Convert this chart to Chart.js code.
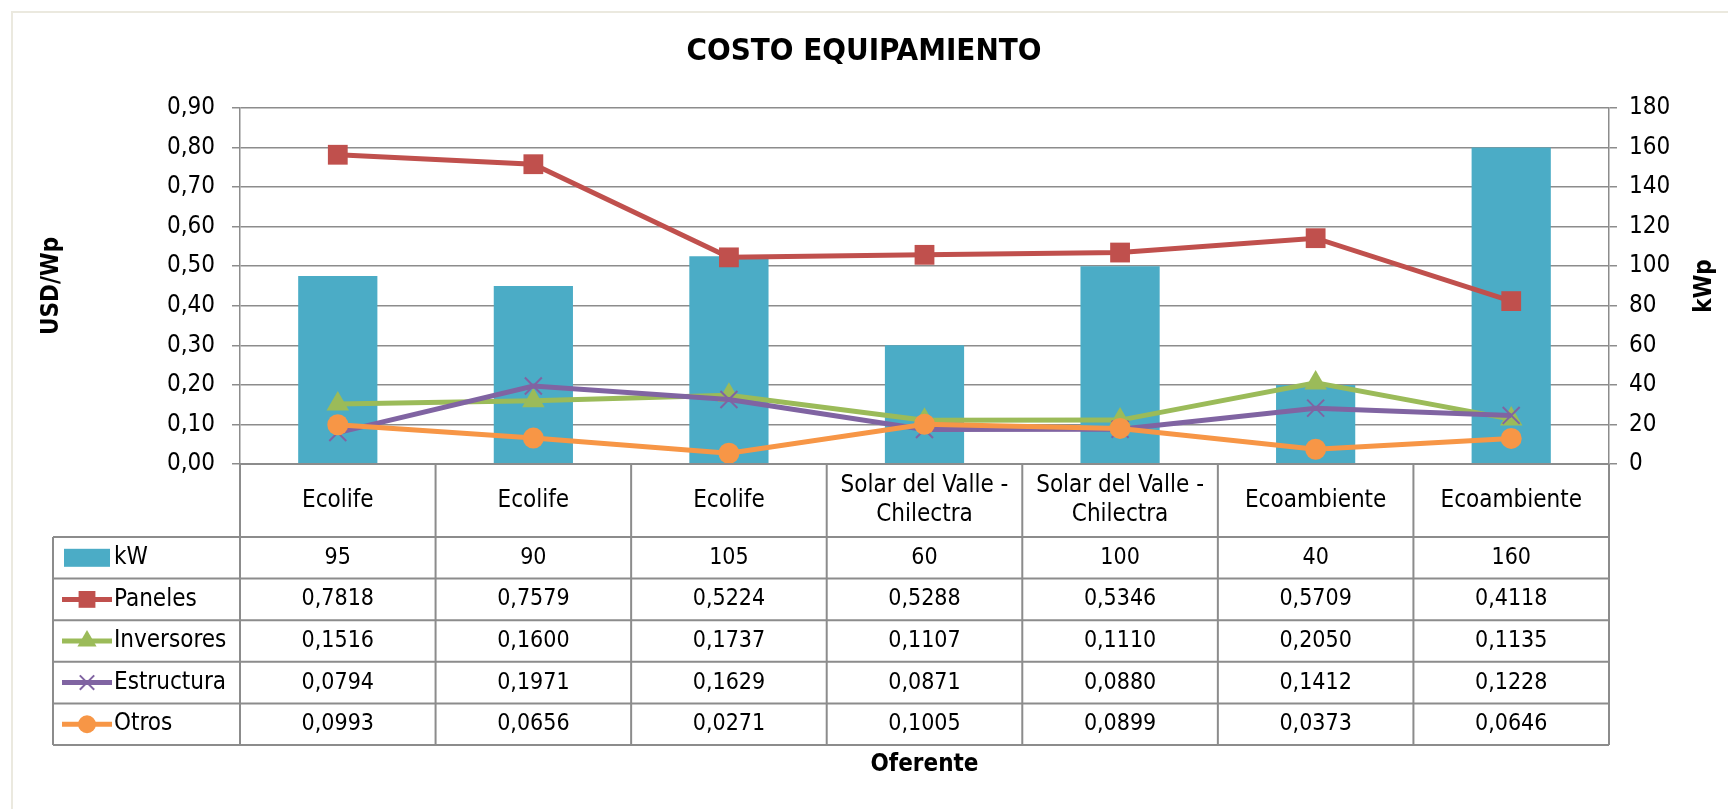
<!DOCTYPE html>
<html>
<head>
<meta charset="utf-8">
<title>Costo equipamiento</title>
<script src="https://cdn.jsdelivr.net/npm/chart.js@4.4.1/dist/chart.umd.min.js"></script>
<style>
  html, body { margin: 0; padding: 0; background: #fff; overflow: hidden; }
  #frame { position: absolute; left: 11px; top: 11px; width: 1740px; height: 820px; border: 2px solid #ebe9df; box-sizing: border-box; }
  #chartBox { position: absolute; left: 0; top: 0; width: 1728px; height: 809px; }
</style>
</head>
<body>
<div id="frame"></div>
<div id="chartBox"><canvas id="costChart" width="1728" height="809"></canvas></div>
<script>
const categories = ['Ecolife', 'Ecolife', 'Ecolife', ['Solar del Valle -', 'Chilectra'], ['Solar del Valle -', 'Chilectra'], 'Ecoambiente', 'Ecoambiente'];
const kwValues = [95, 90, 105, 60, 100, 40, 160];
const paneles = [0.7818, 0.7579, 0.5224, 0.5288, 0.5346, 0.5709, 0.4118];
const inversores = [0.1516, 0.1600, 0.1737, 0.1107, 0.1110, 0.2050, 0.1135];
const estructura = [0.0794, 0.1971, 0.1629, 0.0871, 0.0880, 0.1412, 0.1228];
const otros = [0.0993, 0.0656, 0.0271, 0.1005, 0.0899, 0.0373, 0.0646];
const usdAxis = { min: 0, max: 0.9, step: 0.1 };
const kwAxis = { min: 0, max: 180, step: 20 };

const FONT = '"Liberation Sans Narrow", "DejaVu Sans Condensed", "Arial Narrow", sans-serif';
const GRID = '#8c8c8c';

Chart.defaults.font.family = FONT;
Chart.defaults.color = '#000';

const comma = (v, d) => v.toFixed(d).replace('.', ',');

//..table under the plot, columns taken from the x scale
const tablePlugin = {
    id: 'dataTable',
    afterDraw(chart) {
        const { ctx, chartArea } = chart;
        const x = chart.scales.x;
        const half = (x.getPixelForValue(1) - x.getPixelForValue(0)) / 2;
        const headerH = 73, rowH = 41.6, tableLeft = 53;
        const top = chartArea.bottom;
        const rowsTop = top + headerH;
        const sets = chart.data.datasets;
        const bottom = rowsTop + rowH * sets.length;

        ctx.save();
        ctx.strokeStyle = GRID;
        ctx.lineWidth = 2;
        ctx.beginPath();
        ctx.moveTo(chartArea.left, top);
        ctx.lineTo(chartArea.right, top);
        for (let r = 0; r <= sets.length; r++) {
            const y = rowsTop + r * rowH;
            ctx.moveTo(tableLeft, y);
            ctx.lineTo(chartArea.right, y);
        }
        ctx.moveTo(tableLeft, rowsTop);
        ctx.lineTo(tableLeft, bottom);
        for (let i = 0; i <= categories.length; i++) {
            const px = x.getPixelForValue(0) - half + i * half * 2;
            ctx.moveTo(px, top);
            ctx.lineTo(px, bottom);
        }
        ctx.stroke();

        ctx.fillStyle = '#000';
        ctx.font = '24px ' + FONT;
        ctx.textAlign = 'center';
        ctx.textBaseline = 'middle';
        categories.forEach((c, i) => {
            const lines = Array.isArray(c) ? c : [c];
            const cx = x.getPixelForValue(i);
            const cy = top + headerH / 2;
            lines.forEach((t, k) => {
                ctx.fillText(t, cx, cy + (k - (lines.length - 1) / 2) * 29);
            });
        });

        sets.forEach((ds, r) => {
            const cy = rowsTop + r * rowH + rowH / 2;
            //..legend key
            if (ds.type === 'bar') {
                ctx.fillStyle = ds.backgroundColor;
                ctx.fillRect(64, cy - 9, 46, 18);
            } else {
                ctx.strokeStyle = ds.borderColor;
                ctx.lineWidth = 5;
                ctx.beginPath();
                ctx.moveTo(62, cy);
                ctx.lineTo(112, cy);
                ctx.stroke();
                ctx.fillStyle = ds.backgroundColor;
                ctx.lineWidth = ds.pointBorderWidth;
                Chart.helpers.drawPoint(ctx, {
                    pointStyle: ds.pointStyle,
                    radius: ds.pointRadius * 0.85,
                    borderWidth: ds.pointBorderWidth,
                    rotation: 0
                }, 87, cy);
            }
            ctx.fillStyle = '#000';
            ctx.font = '24px ' + FONT;
            ctx.textAlign = 'left';
            ctx.fillText(ds.label, 114, cy);
            ctx.textAlign = 'center';
            ctx.font = '23px ' + FONT;
            ds.data.forEach((v, i) => {
                ctx.fillText(comma(v, ds.decimals), x.getPixelForValue(i), cy);
            });
        });

        //..axis titles
        ctx.font = 'bold 24px ' + FONT;
        const midY = (chartArea.top + chartArea.bottom) / 2;
        [['USD/Wp', 52], ['kWp', 1705]].forEach(([t, px]) => {
            ctx.save();
            ctx.translate(px, midY);
            ctx.rotate(-Math.PI / 2);
            ctx.fillText(t, 0, 0);
            ctx.restore();
        });
        ctx.fillText('Oferente', (chartArea.left + chartArea.right) / 2, bottom + 20);
        ctx.restore();
    }
};

const lineSet = (label, data, color, style, radius, order) => ({
    type: 'line',
    label: label,
    data: data,
    yAxisID: 'y',
    borderColor: color,
    backgroundColor: color,
    borderWidth: 5,
    pointStyle: style,
    pointRadius: radius,
    pointHoverRadius: radius,
    pointBorderWidth: style === 'crossRot' ? 2 : 0,
    tension: 0,
    decimals: 4,
    order: order
});

new Chart(document.getElementById('costChart'), {
    data: {
        labels: categories,
        datasets: [
            {
                type: 'bar',
                label: 'kW',
                data: kwValues,
                yAxisID: 'kw',
                backgroundColor: '#4BACC6',
                categoryPercentage: 1,
                barPercentage: 0.405,
                decimals: 0,
                order: 5
            },
            lineSet('Paneles', paneles, '#C0504D', 'rect', 14, 4),
            lineSet('Inversores', inversores, '#9BBB59', 'triangle', 13, 3),
            lineSet('Estructura', estructura, '#8064A2', 'crossRot', 12, 2),
            lineSet('Otros', otros, '#F79646', 'circle', 10.5, 1)
        ]
    },
    options: {
        responsive: false,
        animation: false,
        devicePixelRatio: 1,
        layout: {
            padding: { top: 0, left: 0, right: 0, bottom: 345 }
        },
        plugins: {
            legend: { display: false },
            title: {
                display: true,
                text: 'COSTO EQUIPAMIENTO',
                color: '#000',
                font: { size: 31, weight: 'bold' },
                padding: { top: 33, bottom: 37.8 }
            }
        },
        scales: {
            x: {
                display: false,
                offset: true
            },
            y: {
                position: 'left',
                min: usdAxis.min,
                max: usdAxis.max,
                ticks: {
                    stepSize: usdAxis.step,
                    padding: 17,
                    font: { size: 24 },
                    callback: v => comma(v, 2)
                },
                grid: { color: GRID, lineWidth: 1.5, tickLength: 8 },
                border: { color: GRID, width: 1.5 },
                afterFit(scale) { scale.width = 240; }
            },
            kw: {
                position: 'right',
                min: kwAxis.min,
                max: kwAxis.max,
                ticks: {
                    stepSize: kwAxis.step,
                    padding: 12,
                    font: { size: 24 }
                },
                grid: { drawOnChartArea: false, color: GRID, lineWidth: 1.5, tickLength: 8 },
                border: { color: GRID, width: 1.5 },
                afterFit(scale) { scale.width = 119; }
            }
        }
    },
    plugins: [tablePlugin]
});
</script>
</body>
</html>
